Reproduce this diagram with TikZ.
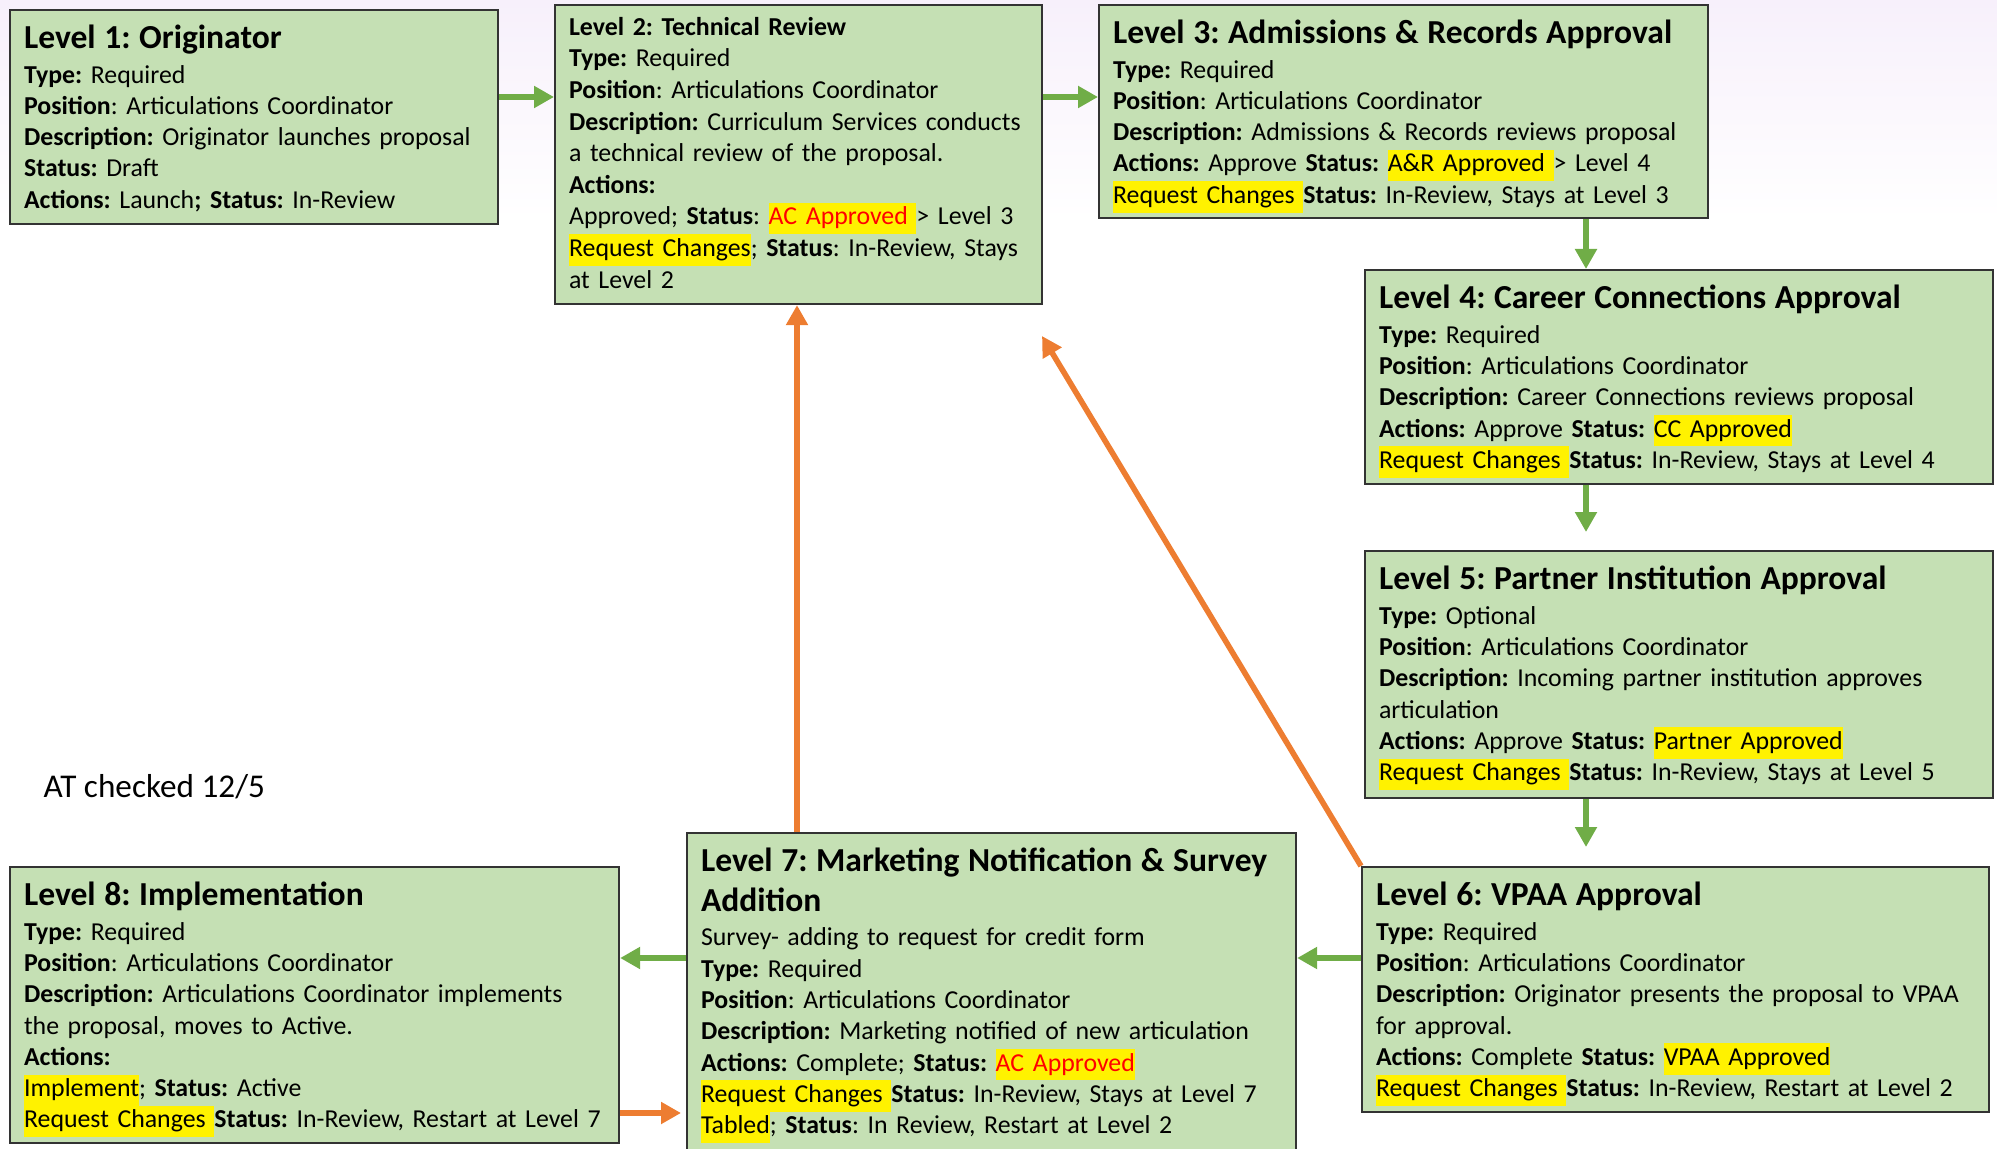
\documentclass[tikz,border=0pt]{standalone}
\usepackage{fontspec}
\setmainfont{Carlito}
\usetikzlibrary{arrows.meta}
\frenchspacing
\hyphenpenalty=10000
\exhyphenpenalty=10000

\definecolor{boxgreen}{HTML}{C5E0B4}
\definecolor{boxline}{HTML}{333333}
\definecolor{arrowgreen}{HTML}{70AD47}
\definecolor{arroworange}{HTML}{ED7D31}
\definecolor{lavtop}{RGB}{247,240,251}

\newcommand{\bodyfont}{\fontsize{7.35}{8.9}\selectfont}
\newcommand{\lvtitle}[1]{{\fontsize{9.55}{11.3}\selectfont\bfseries #1\par}\vskip0.9pt}
\newcommand{\hlite}[1]{{\setlength{\fboxsep}{0pt}\colorbox{yellow}{\strut#1}}}
\newcommand{\boxtext}[3][4.3pt]{\vbox to #2{\vskip#1 #3\par\vfil}}

\tikzset{
  levelbox/.style={draw=boxline,fill=boxgreen,line width=0.6pt,anchor=north west,
    align=left,inner xsep=0.14cm,inner ysep=0pt,font=\bodyfont},
  greenarrow/.style={-{Triangle[length=2mm,width=2.1mm]},draw=arrowgreen,line width=1.6pt},
  orangearrow/.style={-{Triangle[length=2mm,width=2.1mm]},draw=arroworange,line width=1.6pt}
}

\begin{document}
\begin{tikzpicture}
\useasboundingbox (0,0) rectangle (19.97,-11.49);
\shade[top color=lavtop,bottom color=white] (0,0) rectangle (19.97,-2.2);

\node[levelbox,text width=4.60cm] (L1) at (0.09,-0.09) {\boxtext{2.14cm}{\lvtitle{Level 1: Originator}
\textbf{Type:} Required\\
\textbf{Position}: Articulations Coordinator\\
\textbf{Description:} Originator launches proposal\\
\textbf{Status:} Draft\\
\textbf{Actions:} Launch\textbf{; Status:} In-Review}};

\node[levelbox,text width=4.59cm] (L2) at (5.54,-0.04) {\boxtext[3.4pt]{2.99cm}{\fontsize{7.35}{9}\selectfont\textbf{Level 2: Technical Review}\\
\textbf{Type:} Required\\
\textbf{Position}: Articulations Coordinator\\
\textbf{Description:} Curriculum Services conducts\\
a technical review of the proposal.\\
\textbf{Actions:}\\
Approved; \textbf{Status}: \hlite{\textcolor{red}{AC Approved}\ }> Level 3\\
\hlite{Request Changes}; \textbf{Status}: In-Review, Stays\\
at Level 2}};

\node[levelbox,text width=5.81cm] (L3) at (10.98,-0.04) {\boxtext{2.13cm}{\lvtitle{Level 3: Admissions \& Records Approval}
\textbf{Type:} Required\\
\textbf{Position}: Articulations Coordinator\\
\textbf{Description:} Admissions \& Records reviews proposal\\
\textbf{Actions:} Approve \textbf{Status:} \hlite{A\&R Approved\ }> Level 4\\
\hlite{Request Changes\ }\textbf{Status:} In-Review, Stays at Level 3}};

\node[levelbox,text width=6.00cm] (L4) at (13.64,-2.69) {\boxtext{2.14cm}{\lvtitle{Level 4: Career Connections Approval}
\textbf{Type:} Required\\
\textbf{Position}: Articulations Coordinator\\
\textbf{Description:} Career Connections reviews proposal\\
\textbf{Actions:} Approve \textbf{Status:} \hlite{CC Approved}\\
\hlite{Request Changes\ }\textbf{Status:} In-Review, Stays at Level 4}};

\node[levelbox,text width=6.00cm] (L5) at (13.64,-5.50) {\boxtext{2.47cm}{\lvtitle{Level 5: Partner Institution Approval}
\textbf{Type:} Optional\\
\textbf{Position}: Articulations Coordinator\\
\textbf{Description:} Incoming partner institution approves\\
articulation\\
\textbf{Actions:} Approve \textbf{Status:} \hlite{Partner Approved}\\
\hlite{Request Changes\ }\textbf{Status:} In-Review, Stays at Level 5}};

\node[levelbox,text width=5.99cm] (L6) at (13.61,-8.66) {\boxtext{2.45cm}{\lvtitle{Level 6: VPAA Approval}
\textbf{Type:} Required\\
\textbf{Position}: Articulations Coordinator\\
\textbf{Description:} Originator presents the proposal to VPAA\\
for approval.\\
\textbf{Actions:} Complete \textbf{Status:} \hlite{VPAA Approved}\\
\hlite{Request Changes\ }\textbf{Status:} In-Review, Restart at Level 2}};

\node[levelbox,text width=5.81cm] (L7) at (6.86,-8.32) {\boxtext{3.35cm}{\lvtitle{Level 7: Marketing Notification \& Survey\\ Addition}
Survey- adding to request for credit form\\
\textbf{Type:} Required\\
\textbf{Position}: Articulations Coordinator\\
\textbf{Description:} Marketing notified of new articulation\\
\textbf{Actions:} Complete; \textbf{Status:} \hlite{\textcolor{red}{AC Approved}}\\
\hlite{Request Changes\ }\textbf{Status:} In-Review, Stays at Level 7\\
\hlite{Tabled}; \textbf{Status}: In Review, Restart at Level 2}};

\node[levelbox,text width=5.81cm] (L8) at (0.09,-8.66) {\boxtext{2.76cm}{\lvtitle{Level 8: Implementation}
\textbf{Type:} Required\\
\textbf{Position}: Articulations Coordinator\\
\textbf{Description:} Articulations Coordinator implements\\
the proposal, moves to Active.\\
\textbf{Actions:}\\
\hlite{Implement}; \textbf{Status:} Active\\
\hlite{Request Changes\ }\textbf{Status:} In-Review, Restart at Level 7}};

\node[anchor=west,inner sep=0pt,font=\fontsize{9.45}{11}\selectfont] (note) at (0.43,-7.87) {AT checked 12/5};

\coordinate (rowy) at (0,-0.97);
\coordinate (colx) at (15.86,0);
\coordinate (midy) at (0,-9.58);
\coordinate (upx) at (7.97,0);
\coordinate (lowy) at (0,-11.13);
\coordinate (tip) at (10.42,-3.36);

\draw[greenarrow] (L1.east |- rowy) -- (L2.west |- rowy);
\draw[greenarrow] (L2.east |- rowy) -- (L3.west |- rowy);
\draw[greenarrow] (L3.south -| colx) -- (L4.north -| colx);
\draw[greenarrow,shorten >=1.8mm] (L4.south -| colx) -- (L5.north -| colx);
\draw[greenarrow,shorten >=1.9mm] (L5.south -| colx) -- (L6.north -| colx);
\draw[greenarrow] (L6.west |- midy) -- (L7.east |- midy);
\draw[greenarrow] (L7.west |- midy) -- (L8.east |- midy);
\draw[orangearrow] (L7.north -| upx) -- (L2.south -| upx);
\draw[orangearrow] (L6.north west) -- (tip);
\draw[orangearrow,shorten >=0.5mm] (L8.east |- lowy) -- (L7.west |- lowy);

\end{tikzpicture}
\end{document}
